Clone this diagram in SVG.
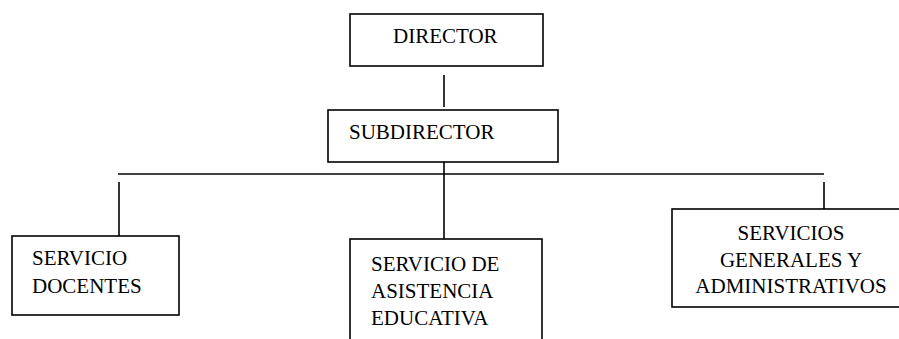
<svg xmlns="http://www.w3.org/2000/svg" width="899" height="339" viewBox="0 0 899 339">
<style>
.box{fill:#fff;stroke:#000;stroke-width:1.6}
.ln{stroke:#000;stroke-width:1.6;fill:none}
</style>
<rect width="899" height="339" fill="#fff"/>
<g id="connectors">
<line class="ln" x1="444" y1="75" x2="444" y2="107"/>
<line class="ln" x1="444" y1="162" x2="444" y2="239"/>
<line class="ln" x1="118" y1="174" x2="824" y2="174"/>
<line class="ln" x1="119" y1="182" x2="119" y2="236"/>
<line class="ln" x1="824" y1="182" x2="824" y2="209"/>
</g>
<g font-family="Liberation Serif, DejaVu Serif, serif" font-size="21" fill="#000">
<g id="director">
<rect class="box" x="350" y="14" width="193" height="52"/>
<text x="393" y="43">DIRECTOR</text>
</g>
<g id="subdirector">
<rect class="box" x="328" y="110" width="230" height="52"/>
<text x="349" y="139">SUBDIRECTOR</text>
</g>
<g id="docentes">
<rect class="box" x="12" y="236" width="167" height="79"/>
<text x="32" y="265">SERVICIO</text>
<text x="32" y="293">DOCENTES</text>
</g>
<g id="asistencia">
<rect class="box" x="350" y="239" width="192" height="110"/>
<text x="371" y="271">SERVICIO DE</text>
<text x="371" y="298">ASISTENCIA</text>
<text x="371" y="325">EDUCATIVA</text>
</g>
<g id="generales">
<rect class="box" x="672" y="209" width="240" height="98"/>
<text x="791" y="240" text-anchor="middle">SERVICIOS</text>
<text x="791" y="267" text-anchor="middle">GENERALES Y</text>
<text x="791" y="293" text-anchor="middle">ADMINISTRATIVOS</text>
</g>
</g>
</svg>
